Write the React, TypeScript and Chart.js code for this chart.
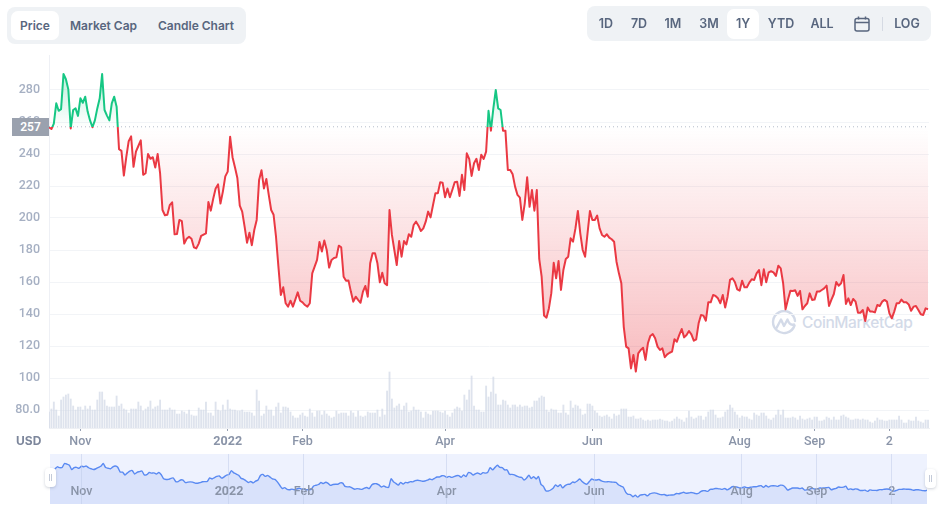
import React, { useEffect, useRef } from "react";
import { Chart, registerables } from "chart.js";

Chart.register(...registerables);

const BASELINE = 257;
const yTicks = [80, 100, 120, 140, 160, 180, 200, 220, 240, 260, 280];
const tickDays = [13, 74, 105, 164, 225, 286, 317, 348];
const tickLabels = ["Nov", "2022", "Feb", "Apr", "Jun", "Aug", "Sep", "2"];

// One close per day, from mid October 2021 to mid October 2022.
const prices = [
  256.7, 255.6, 259, 271.7, 267, 268, 290, 286.7, 280.4, 256,
  267.5, 268.5, 263.8, 274.8, 272, 275.8, 266.5, 261, 256.7, 261,
  268.5, 274.8, 290, 267.5, 264, 261, 271.7, 275.8, 269.6, 243,
  242, 226.5, 238, 248, 251, 232, 241.5, 245, 248.5, 227,
  228, 240, 237, 238, 231.5, 240, 228, 205, 201.7, 202,
  208, 209.8, 189.8, 190, 198.8, 198, 184, 187, 188.3, 187,
  181.7, 181, 184, 188.8, 189.6, 190.4, 210, 204.6, 212, 218.5,
  221, 209, 216.5, 226, 229, 250.8, 238, 231.7, 225, 207.7,
  204, 194.6, 184.6, 190.8, 183, 192.5, 198.8, 223.8, 229.8, 218.5,
  224.4, 214.4, 205, 202, 188.3, 169.6, 151.9, 156.7, 146.7, 144.6,
  148.3, 144.6, 149, 153.5, 148.3, 147.3, 145.6, 144.6, 146.7, 165.4,
  169.6, 173.8, 185, 179, 186, 180, 169, 173.8, 175, 175.4,
  182.7, 181.7, 163.3, 160.8, 161, 154, 147.7, 150.8, 148.8, 147,
  154, 157.5, 150.8, 171.7, 178, 178, 171.7, 159.8, 165.8, 159.2,
  158, 205, 189.4, 180, 170.6, 185.6, 175.8, 185.6, 183.5, 189.8,
  188.3, 195.6, 197.7, 195.2, 191.9, 193.5, 197.7, 204, 200.4, 208,
  215.4, 215.4, 222.3, 222, 213, 218.5, 213, 217.5, 222.3, 222.7,
  213.8, 227, 217.5, 240.4, 236.9, 226.3, 234.2, 237, 230, 239.6,
  236.9, 241.5, 267, 254.6, 268.5, 280, 268.5, 267.5, 254.6, 254.6,
  230, 230, 227.3, 219.6, 214.4, 212.7, 198.8, 209, 225.4, 207,
  217.5, 204.6, 217.5, 174.4, 163.3, 139, 137.7, 143.5, 153, 172,
  162.3, 173.1, 155, 167.5, 174.4, 175.8, 187.3, 185.2, 193.5, 204.4,
  190.4, 180, 175.8, 190.4, 204.4, 198.8, 198.8, 201.5, 193.5, 189.4,
  188.3, 189.8, 187.7, 186.7, 185.2, 172.7, 165.4, 159.2, 132, 119.6,
  118.5, 106, 114.4, 104, 115.4, 117.5, 118.9, 111.3, 121.7, 126.3,
  127.5, 124.8, 119.6, 117.5, 118.5, 113, 114.8, 115.8, 116.5, 124.2,
  122.7, 126.9, 130.6, 125.4, 126.9, 129.4, 127.3, 123.3, 124.2, 134.2,
  139.4, 139, 135.8, 147.3, 147.3, 151.9, 151.3, 149.8, 146.7, 151.9,
  144, 150.8, 161.3, 162.3, 160, 155.4, 154.6, 160.8, 156.7, 156.7,
  159.6, 161.7, 161.3, 165.4, 167.5, 158, 167.9, 159.8, 166, 166.7,
  166, 163.8, 170.2, 168.5, 159.2, 142.9, 149, 154.6, 154.4, 154.8,
  151.3, 154.4, 142.9, 145, 146.7, 152.9, 148.8, 149, 154, 154,
  155, 156, 157.7, 145, 149, 152.5, 160, 157.7, 159.2, 164.4,
  146.3, 149.8, 145.6, 149.4, 147.7, 140.8, 140.8, 142.5, 135.6, 144,
  141.5, 141.5, 141, 145.6, 145, 147.7, 148.8, 147.7, 140.4, 137.3,
  141.5, 146.7, 146.7, 149, 147.3, 147.3, 146, 142, 144.6, 145,
  142.5, 139.8, 139.4, 143.5, 143,
];

// Daily traded volume, in the units of a hidden axis.
const volumes = [
  16, 19, 26, 18, 12, 28, 31, 33, 34, 29,
  22, 18, 21, 21, 18, 22, 19, 22, 18, 18,
  28, 36, 36, 28, 22, 21, 21, 21, 32, 22,
  24, 19, 18, 15, 19, 19, 19, 26, 22, 17,
  19, 21, 27, 19, 21, 22, 28, 18, 18, 18,
  20, 18, 18, 14, 14, 17, 16, 14, 18, 13,
  12, 12, 20, 18, 18, 26, 15, 15, 12, 26,
  18, 17, 23, 18, 28, 19, 18, 18, 17, 17,
  18, 16, 16, 16, 15, 12, 38, 27, 12, 14,
  22, 18, 18, 12, 21, 25, 15, 21, 21, 20,
  16, 12, 10, 10, 13, 15, 12, 11, 19, 15,
  11, 17, 17, 13, 17, 14, 12, 10, 11, 17,
  14, 15, 15, 15, 12, 17, 15, 11, 17, 12,
  11, 12, 16, 15, 15, 15, 18, 11, 19, 13,
  37, 56, 29, 20, 22, 24, 18, 22, 25, 16,
  17, 21, 18, 18, 16, 10, 16, 14, 13, 17,
  17, 17, 16, 15, 17, 13, 11, 15, 19, 21,
  20, 17, 33, 28, 38, 52, 22, 18, 18, 16,
  16, 42, 31, 36, 51, 34, 23, 23, 28, 27,
  23, 20, 23, 23, 21, 23, 21, 22, 22, 20,
  21, 27, 27, 30, 32, 31, 18, 16, 19, 18,
  18, 15, 15, 23, 15, 13, 27, 20, 23, 22,
  19, 13, 14, 24, 24, 22, 17, 15, 12, 11,
  12, 13, 11, 9, 14, 12, 13, 19, 19, 19,
  11, 11, 12, 9, 9, 10, 8, 7, 8, 7,
  8, 8, 8, 9, 8, 7, 7, 6, 7, 9,
  11, 9, 8, 6, 10, 17, 11, 9, 10, 12,
  12, 8, 11, 16, 18, 18, 13, 10, 10, 11,
  16, 18, 23, 20, 16, 13, 10, 12, 11, 11,
  9, 8, 15, 13, 12, 15, 15, 12, 9, 8,
  10, 13, 18, 13, 18, 10, 10, 10, 11, 10,
  8, 12, 9, 8, 9, 10, 8, 11, 11, 7,
  7, 8, 11, 10, 8, 11, 8, 8, 12, 13,
  11, 10, 8, 8, 9, 9, 8, 9, 8, 8,
  6, 5, 7, 10, 8, 8, 7, 7, 8, 8,
  8, 8, 12, 8, 5, 5, 8, 7, 7, 11,
  7, 6, 5, 8, 8,
];

const leftTabs = ["Price", "Market Cap", "Candle Chart"];
const GREEN = "#16c784";
const RED = "#ea3943";
const FONT = "Inter, 'Noto Sans', sans-serif";
const AXIS_FONT = "Roboto, Inter, sans-serif";

const pricePoints = prices.map((y, x) => ({ x, y }));
const volumePoints = volumes.map((y, x) => ({ x, y }));

const label = (left: number, top: number, width: number, text: string, size = 12.5) => (
  <div
    key={text}
    style={{
      position: "absolute", left, top, width, height: 20, textAlign: "center",
      font: `600 ${size}px/20px ${FONT}`, color: "#58667e", whiteSpace: "nowrap",
    }}
  >
    {text}
  </div>
);

const xTickFont = (c: any) => ({
  family: AXIS_FONT, size: 12.5,
  weight: tickLabels[tickDays.indexOf(c.tick?.value)] === "2022" ? 700 : 500,
});

// The range selector writes its month names inside the band, above its fill.
const navLabels = {
  id: "navLabels",
  afterDatasetsDraw(chart: any) {
    const { ctx, scales, chartArea } = chart;
    ctx.save();
    ctx.textAlign = "center";
    ctx.textBaseline = "middle";
    ctx.fillStyle = "#8a94a8";
    tickDays.forEach((day, i) => {
      ctx.font = `${tickLabels[i] === "2022" ? 700 : 500} 12.5px ${AXIS_FONT}`;
      ctx.fillText(tickLabels[i], scales.x.getPixelForValue(day), chartArea.bottom - 12);
    });
    ctx.restore();
  },
};

export default function App() {
  const mainRef = useRef<HTMLCanvasElement>(null);
  const navRef = useRef<HTMLCanvasElement>(null);

  useEffect(() => {
    const main = new Chart(mainRef.current!, {
      type: "bar",
      data: {
        datasets: [
          {
            type: "line", data: pricePoints, yAxisID: "y", borderWidth: 2, pointRadius: 0, tension: 0,
            borderColor: RED, order: 1, fill: { target: { value: BASELINE }, above: "transparent", below: "transparent" },
            borderJoinStyle: "round",
          } as any,
          {
            type: "line", data: [{ x: 0, y: BASELINE }, { x: 365, y: BASELINE }], yAxisID: "y",
            borderWidth: 1, borderColor: "#b4bbc9", borderDash: [1, 3], pointRadius: 0, order: 2,
          } as any,
          {
            type: "bar", data: volumePoints, yAxisID: "vol", backgroundColor: "rgba(207,214,228,0.68)",
            barThickness: 1.2, order: 3,
          } as any,
        ],
      },
      options: {
        animation: false, responsive: false, events: [],
        layout: { autoPadding: false, padding: { top: 55, right: 11, left: 0, bottom: 0 } },
        plugins: { legend: { display: false }, tooltip: { enabled: false } },
        scales: {
          x: {
            type: "linear", offset: false, min: 0, max: 364.4,
            grid: { offset: false, drawOnChartArea: false, tickLength: 3, tickColor: "#98a1b3", color: "#98a1b3", tickWidth: 1 },
            border: { color: "#eef0f4" },
            afterBuildTicks: (s: any) => { s.ticks = tickDays.map((value) => ({ value })); },
            afterFit: (s: any) => { s.height = 82; },
            ticks: {
              autoSkip: false, maxRotation: 0, padding: 3, color: "#8a94a8",
              callback: (v: any) => tickLabels[tickDays.indexOf(v)],
              font: xTickFont,
            },
          },
          y: {
            min: 68.75, max: 301.875,
            grid: { color: "#f2f4f7", drawTicks: false, lineWidth: 1 },
            border: { color: "#eef0f5" },
            afterBuildTicks: (s: any) => { s.ticks = yTicks.map((value) => ({ value })); },
            afterFit: (s: any) => { s.width = 49; },
            ticks: {
              padding: 9, color: "#a6b0c3", font: { family: AXIS_FONT, size: 12.5, weight: 500 },
              callback: (v: any) => (v === 80 ? "80.0" : String(v)),
            },
          },
          vol: { display: false, min: 0, max: 373 },
        },
      },
    } as any);

    // Colours that change at the baseline are built from the scale once it is laid out.
    const ctx = mainRef.current!.getContext("2d")!;
    const yScale = main.scales.y;
    const yBase = yScale.getPixelForValue(BASELINE);
    const top = yScale.top;
    const bottom = yScale.bottom;
    const stop = (yBase - top) / (bottom - top);
    const stroke = ctx.createLinearGradient(0, top, 0, bottom);
    stroke.addColorStop(0, GREEN);
    stroke.addColorStop(stop, GREEN);
    stroke.addColorStop(stop, RED);
    stroke.addColorStop(1, RED);
    const above = ctx.createLinearGradient(0, yScale.getPixelForValue(290), 0, yBase);
    above.addColorStop(0, "rgba(22,199,132,0.28)");
    above.addColorStop(1, "rgba(22,199,132,0)");
    const below = ctx.createLinearGradient(0, yBase, 0, yScale.getPixelForValue(104));
    below.addColorStop(0, "rgba(234,57,67,0)");
    below.addColorStop(1, "rgba(234,57,67,0.34)");
    const ds: any = main.data.datasets[0];
    ds.borderColor = stroke;
    ds.fill = { target: { value: BASELINE }, above, below };
    main.update();

    const nav = new Chart(navRef.current!, {
      type: "line",
      plugins: [navLabels],
      data: {
        datasets: [
          {
            data: pricePoints, borderColor: "#5a8af2", borderWidth: 1.4, pointRadius: 0, tension: 0.2,
            fill: "start", backgroundColor: "#d9e2fb",
          },
        ],
      },
      options: {
        animation: false, responsive: false, events: [],
        layout: { autoPadding: false, padding: 0 },
        plugins: { legend: { display: false }, tooltip: { enabled: false } },
        scales: {
          x: {
            type: "linear", min: 0, max: 362.6,
            grid: { color: "rgba(190,202,232,0.5)", drawTicks: false, z: 1 },
            border: { display: false },
            afterBuildTicks: (s: any) => { s.ticks = tickDays.map((value) => ({ value })); },
            afterFit: (s: any) => { s.height = 0; },
            ticks: { display: false },
          },
          y: { display: false, min: 66, max: 342.5 },
        },
      },
    } as any);

    return () => { main.destroy(); nav.destroy(); };
  }, []);

  const handle = (left: number, top: number) => (
    <div
      style={{
        position: "absolute", left, top, width: 11, height: 19, background: "#fff", borderRadius: 4,
        boxShadow: "0 1px 3px rgba(88,102,126,0.3)", zIndex: 3,
      }}
    >
      <div style={{ position: "absolute", left: 4, top: 6, width: 1, height: 7, background: "#c3cad8" }} />
      <div style={{ position: "absolute", left: 6, top: 6, width: 1, height: 7, background: "#c3cad8" }} />
    </div>
  );

  return (
    <div style={{ position: "fixed", left: 0, top: 0, width: 940, height: 510, background: "#fff", overflow: "hidden" }}>
      {/* Watermark sits under the chart */}
      <svg style={{ position: "absolute", left: 771, top: 310 }} width="26" height="25" viewBox="0 0 26 25" fill="none" stroke="#d3dae8" strokeWidth="2.4">
        <path d="M23.5 15.5 A11 11 0 1 1 24 11" strokeLinecap="round" />
        <path d="M5.5 18 L10 9.5 L13 16 L16.5 9.5 C17.5 13 19.5 15.5 23 14.5" strokeLinecap="round" strokeLinejoin="round" />
      </svg>
      <div
        style={{
          position: "absolute", left: 802, top: 311, height: 24, color: "#d3dae8",
          font: `500 15.5px/24px ${FONT}`, letterSpacing: "-0.4px", whiteSpace: "nowrap",
        }}
      >
        CoinMarketCap
      </div>

      <canvas ref={mainRef} width={940} height={510} style={{ position: "absolute", left: 0, top: 0, display: "block" }} />

      {/* Range selector */}
      <div style={{ position: "absolute", left: 50, top: 454, width: 877, height: 50, background: "#eef2fe" }} />
      <canvas ref={navRef} width={877} height={50} style={{ position: "absolute", left: 50, top: 454, display: "block" }} />
      {handle(45, 468)}
      {handle(925, 469)}

      {/* Price tag on the axis */}
      <div
        style={{
          position: "absolute", left: 12, top: 118, width: 37, height: 18, background: "#9aa1ae", color: "#fff",
          font: `600 12px/18px ${AXIS_FONT}`, textAlign: "center",
        }}
      >
        {BASELINE}
      </div>

      <div style={{ position: "absolute", left: 16, top: 432, font: `700 12px/18px ${FONT}`, color: "#7c869b" }}>USD</div>

      {/* Left tabs */}
      <div style={{ position: "absolute", left: 7, top: 7, width: 239, height: 37, background: "#eff2f5", borderRadius: 8 }} />
      <div style={{ position: "absolute", left: 11, top: 11, width: 48, height: 29, background: "#fff", borderRadius: 7 }} />
      {label(11, 16, 48, leftTabs[0], 12)}
      {label(60, 16, 87, leftTabs[1], 12)}
      {label(150, 16, 92, leftTabs[2], 12)}

      {/* Right tabs */}
      <div style={{ position: "absolute", left: 587, top: 6, width: 344, height: 35, background: "#eff2f5", borderRadius: 8 }} />
      <div style={{ position: "absolute", left: 727, top: 9, width: 32, height: 30, background: "#fff", borderRadius: 7 }} />
      {label(591, 14, 30, "1D")}
      {label(624, 14, 30, "7D")}
      {label(658, 14, 30, "1M")}
      {label(694, 14, 30, "3M")}
      {label(728, 14, 30, "1Y")}
      {label(761, 14, 40, "YTD")}
      {label(802, 14, 40, "ALL")}
      <svg style={{ position: "absolute", left: 854, top: 16 }} width="16" height="16" viewBox="0 0 16 16" fill="none" stroke="#58667e" strokeWidth="1.5">
        <rect x="1" y="2.5" width="14" height="12.5" rx="2" />
        <path d="M1 6.5 H15 M4.5 0.5 V3.5 M11.5 0.5 V3.5" />
      </svg>
      <div style={{ position: "absolute", left: 882, top: 17, width: 1, height: 14, background: "#d5dae3" }} />
      {label(888, 14, 38, "LOG")}
    </div>
  );
}
